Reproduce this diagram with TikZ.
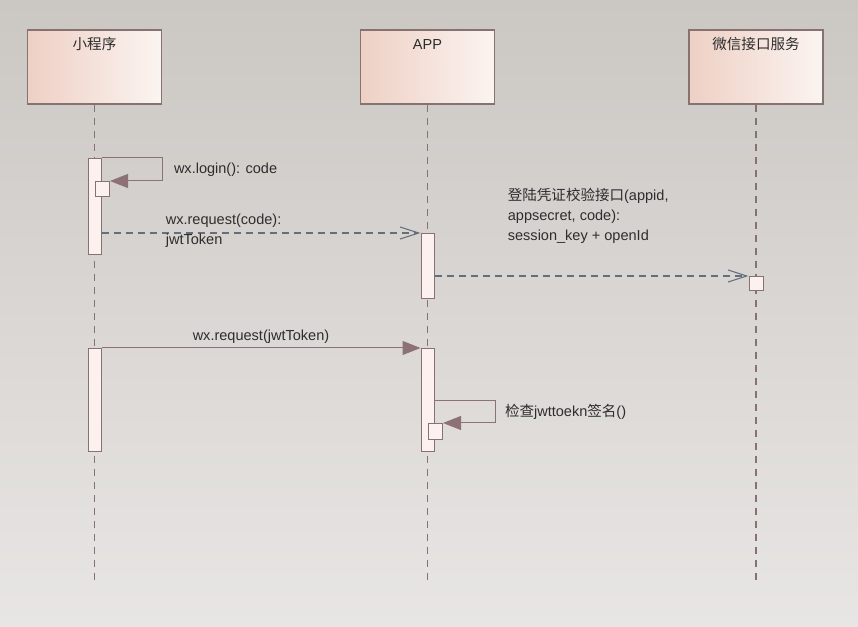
\documentclass[tikz,border=0pt]{standalone}
\usepackage{fontspec}
\setmainfont{Liberation Sans}
\newfontfamily\cjk{Noto Sans CJK SC}
\usepackage{tikz}
\usetikzlibrary{arrows.meta,positioning}
\definecolor{bgtop}{RGB}{203,199,195}
\definecolor{bgbottom}{RGB}{232,230,228}
\definecolor{boxleft}{RGB}{238,208,196}
\definecolor{boxright}{RGB}{251,244,241}
\definecolor{boxline}{RGB}{135,114,114}
\definecolor{actfill}{RGB}{252,241,239}
\definecolor{msgline}{RGB}{140,114,118}
\definecolor{dashline}{RGB}{100,110,124}
\definecolor{txt}{RGB}{45,45,45}
\tikzstyle{lifebox} = [rectangle, draw=boxline, line width=0.9pt, left color=boxleft, right color=boxright, minimum width=100.5pt, minimum height=55.5pt, inner sep=0pt]
\tikzstyle{lifeline} = [draw=boxline, line width=0.8pt, dash pattern=on 5.25pt off 4.5pt]
\tikzstyle{activation} = [rectangle, draw=boxline, line width=0.75pt, fill=actfill, minimum width=9.75pt, anchor=north, inner sep=0pt]
\tikzstyle{selfbox} = [rectangle, draw=boxline, line width=0.75pt, fill=actfill, minimum width=10.5pt, minimum height=11.25pt, anchor=north west, inner sep=0pt]
\tikzstyle{syncmsg} = [draw=msgline, line width=0.75pt, -{Triangle[length=13.5pt,width=10.5pt,fill=msgline]}]
\tikzstyle{replymsg} = [draw=dashline, line width=0.8pt, dash pattern=on 5.25pt off 3.75pt, -{Straight Barb[length=14pt,width=9pt]}]
\tikzstyle{msglabel} = [text=txt, font=\fontsize{10.9}{15}\selectfont, align=left, inner sep=0pt]
\tikzstyle{boxlabel} = [msglabel, anchor=base, yshift=-15pt]
\begin{document}
\begin{tikzpicture}[x=0.75pt, y=-0.75pt]
\shade [top color=bgtop, bottom color=bgbottom] (0,0) rectangle (858,627);
% lifelines
\node (mini) [lifebox, label={[boxlabel]north:{\cjk 小程序}}] at (94.5,67) {};
\node (app) [lifebox, label={[boxlabel]north:APP}] at (427.5,67) {};
\node (wxsvc) [lifebox, label={[boxlabel]north:{\cjk 微信接口服务}}] at (756,67) {};
\coordinate (bottom) at (0,580);
\draw [lifeline] (mini.south) -- (mini.south |- bottom);
\draw [lifeline] (app.south) -- (app.south |- bottom);
\draw [lifeline] (wxsvc.south) -- (wxsvc.south |- bottom);

% activations
\node (act1) [activation, minimum height=72pt] at (94.5,158) {};
\node (self1) [selfbox] at (95,181) {};
\node (act2) [activation, minimum height=48.75pt] at (427.5,233) {};
\node (svcact) [activation, minimum width=10.5pt, minimum height=10.5pt] at (756,276) {};
\node (act3) [activation, minimum height=77.25pt] at (94.5,348) {};
\node (act4) [activation, minimum height=77.25pt] at (427.5,348) {};
\node (self2) [selfbox, minimum height=12pt] at (428,423) {};

% messages
\draw [syncmsg] (act1.north east) -- ++(61,0) |- node[msglabel, anchor=west, pos=0.25, xshift=8.25pt] (loginlbl) {wx.login(): code} (self1.north east);
\draw [replymsg] (act1.east |- act2.north) -- node[msglabel, pos=0.2, anchor=west, yshift=1.5pt] (reqlbl) {wx.request(code):\\jwtToken} (act2.north west);
\draw [replymsg] (act2.east |- svcact.north) -- node[msglabel, pos=0.232, anchor=west, yshift=45pt] (verifylbl) {{\cjk 登陆凭证校验接口}(appid,\\appsecret, code):\\session\_key + openId} (svcact.north west);
\draw [syncmsg] (act3.north east) -- node[msglabel, above=3pt] (jwtlbl) {wx.request(jwtToken)} (act4.north west);
\draw [syncmsg] (act4.east |- 0,401) -- ++(61,0) |- node[msglabel, anchor=west, pos=0.25, xshift=6.75pt] (checklbl) {{\cjk 检查}jwttoekn{\cjk 签名}()} (self2.north east);
\end{tikzpicture}
\end{document}
